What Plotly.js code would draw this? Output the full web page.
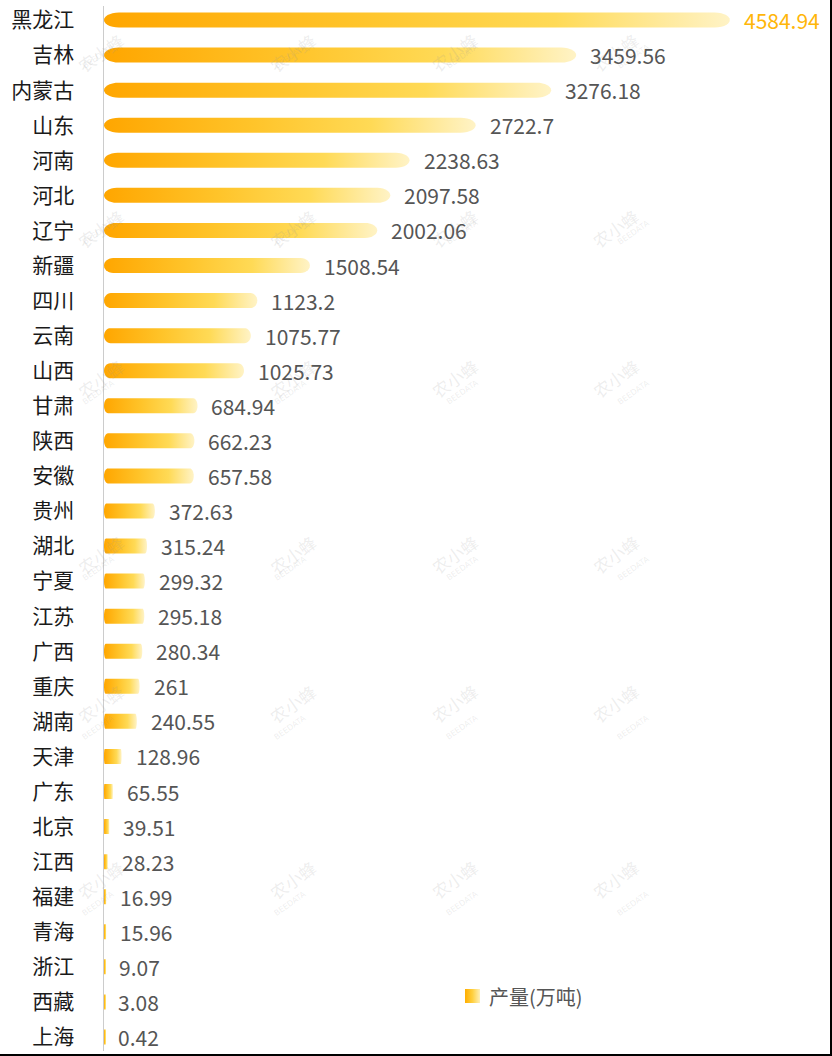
<!DOCTYPE html>
<html>
<head>
<meta charset="utf-8">
<script src="https://cdn.plot.ly/plotly-3.0.1.min.js"></script>
<style>
html,body{margin:0;padding:0;background:#fff;}
#chart{width:830px;height:1054px;border-right:2px solid #000;border-bottom:2px solid #000;}
</style>
</head>
<body>
<div id="chart"></div>
<script>
const categories = ['黑龙江','吉林','内蒙古','山东','河南','河北','辽宁','新疆','四川','云南','山西','甘肃','陕西','安徽','贵州','湖北','宁夏','江苏','广西','重庆','湖南','天津','广东','北京','江西','福建','青海','浙江','西藏','上海'];
const values = [4584.94,3459.56,3276.18,2722.7,2238.63,2097.58,2002.06,1508.54,1123.2,1075.77,1025.73,684.94,662.23,657.58,372.63,315.24,299.32,295.18,280.34,261,240.55,128.96,65.55,39.51,28.23,16.99,15.96,9.07,3.08,0.42];
const seriesName = '产量(万吨)';

const W = 830, H = 1054;
const ML = 104, MR = 43, MT = 6, MB = 3;
const plotW = W - ML - MR, plotH = H - MT - MB;
const xMax = 5004;
const yTop = -0.4, yBottom = 29.4;
const pxPerUnitX = plotW / xMax;
const pxPerRow = plotH / (yBottom - yTop);

const gradient = [[0,'#FFA600'],[0.4,'#FFC42A'],[0.72,'#FFDA56'],[1,'#FFF3C6']];
const halfH = 7.5 / pxPerRow;

function barShape(v, i) {
  const wv = Math.max(v, 2 / pxPerUnitX);
  const rx = Math.min(15 / pxPerUnitX, 0.045 * wv);
  const xs = [], ys = [];
  const n = 14;
  for (let k = 0; k <= n; k++) {
    const t = -Math.PI/2 + Math.PI * k / n;
    xs.push(wv - rx + rx * Math.cos(t));
    ys.push(i + halfH * Math.sin(t));
  }
  for (let k = 0; k <= n; k++) {
    const t = Math.PI/2 + Math.PI * k / n;
    xs.push(rx + rx * Math.cos(t));
    ys.push(i + halfH * Math.sin(t));
  }
  xs.push(xs[0]); ys.push(ys[0]);
  return {xs, ys};
}

const traces = values.map((v, i) => {
  const s = barShape(v, i);
  return {
    type: 'scatter', mode: 'none', x: s.xs, y: s.ys,
    fill: 'toself',
    fillgradient: {type: 'horizontal', colorscale: gradient},
    name: seriesName, showlegend: false, hoverinfo: 'skip'
  };
});

// legend swatch (drawn on its own small axes)
traces.push({
  type: 'scatter', mode: 'none', x: [0, 1, 1, 0, 0], y: [0, 0, 1, 1, 0],
  xaxis: 'x2', yaxis: 'y2', fill: 'toself',
  fillgradient: {type: 'horizontal', colorscale: [[0,'#FFAE00'],[0.5,'#FFD040'],[1,'#FFF0B8']]},
  showlegend: false, hoverinfo: 'skip', name: seriesName
});

const annotations = values.map((v, i) => ({
  x: v, y: i, xref: 'x', yref: 'y', text: String(v),
  showarrow: false, xanchor: 'left', yanchor: 'middle', xshift: 12,
  font: {family: 'Noto Sans CJK SC', size: 21, color: i === 0 ? '#FFB60A' : '#555555'}
}));

annotations.push({
  x: (487 - ML) / plotW, y: (H - MB - 996) / plotH, xref: 'paper', yref: 'paper',
  text: seriesName, showarrow: false, xanchor: 'left', yanchor: 'middle',
  font: {family: 'Noto Sans CJK SC', size: 20, color: '#555555'}
});

// watermark
const wmCols = [70, 262, 454, 646];
const wmRows = [25, 201, 378, 554, 731, 907];
wmRows.forEach(py => wmCols.forEach(px => {
  const xp = (px - ML) / plotW, yp = (H - MB - py) / plotH;
  annotations.push({x: xp, y: yp, xref: 'paper', yref: 'paper', text: '农小蜂', showarrow: false,
    textangle: -35, font: {family: 'Noto Sans CJK SC', size: 17, color: 'rgba(150,150,150,0.17)'}});
  annotations.push({x: (px + 8 - ML) / plotW, y: (H - MB - py - 14) / plotH, xref: 'paper', yref: 'paper',
    text: 'BEEDATA', showarrow: false, textangle: -35,
    font: {family: 'DejaVu Sans', size: 8, color: 'rgba(150,150,150,0.17)'}});
}));

const layout = {
  width: W, height: H,
  margin: {l: ML, r: MR, t: MT, b: MB},
  paper_bgcolor: '#fff', plot_bgcolor: 'rgba(0,0,0,0)',
  font: {family: 'Noto Sans CJK SC'},
  xaxis: {range: [0, xMax], visible: false, showgrid: false, zeroline: false, fixedrange: true},
  yaxis: {range: [yBottom, yTop], tickvals: categories.map((c, i) => i), ticktext: categories,
    showgrid: false, zeroline: false, showline: true, linecolor: '#cccccc', linewidth: 1.5,
    ticks: '', ticklabelstandoff: 24,
    tickfont: {family: 'Noto Sans CJK SC', size: 21, color: '#1a1a1a'}},
  xaxis2: {domain: [(465 - ML) / plotW, (480 - ML) / plotW], range: [0, 1], visible: false, anchor: 'y2', fixedrange: true},
  yaxis2: {domain: [(H - MB - 1003) / plotH, (H - MB - 989) / plotH], range: [0, 1], visible: false, anchor: 'x2', fixedrange: true},
  showlegend: false,
  annotations: annotations
};

Plotly.newPlot('chart', traces, layout, {displayModeBar: false, staticPlot: true});
</script>
</body>
</html>
